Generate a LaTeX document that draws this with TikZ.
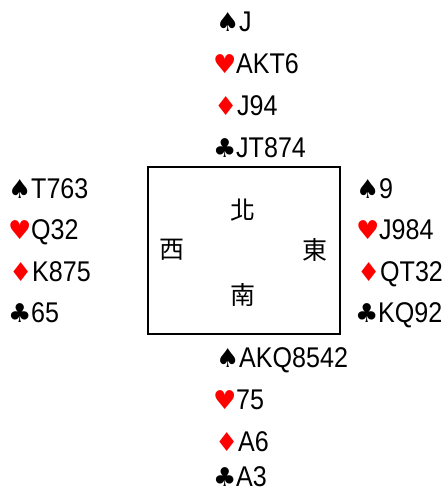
\documentclass[tikz,border=0pt]{standalone}
\usepackage{fontspec}
\setmainfont[FakeStretch=0.88]{Liberation Sans}
\newfontfamily\suitfont{DejaVu Sans}
\newfontfamily\cjk{Noto Sans CJK TC}
\usepackage{tikz}
\newcommand{\cardS}{\makebox[23pt][l]{\suitfont\fontsize{26}{26}\selectfont ♠}}
\newcommand{\cardH}{\makebox[23pt][l]{\suitfont\fontsize{26}{26}\selectfont\color{red}♥}}
\newcommand{\cardD}{\makebox[23pt][l]{\suitfont\fontsize{26}{26}\selectfont\color{red}♦}}
\newcommand{\cardC}{\makebox[23pt][l]{\suitfont\fontsize{26}{26}\selectfont ♣}}
\tikzset{hand/.style={anchor=base west, inner sep=0pt, font=\fontsize{28.5}{28.5}\selectfont},
  seat/.style={inner sep=0pt, font=\cjk\fontsize{25}{25}\selectfont}}

\begin{document}
\begin{tikzpicture}[x=1pt, y=-1pt]
      \useasboundingbox (0,0) rectangle (446,492);
      % north
      \node[hand] (n1) at (216,32) {\cardS J};
      \node[hand] (n2) at (213,74) {\cardH AKT6};
      \node[hand] (n3) at (214,115) {\cardD J94};
      \node[hand] (n4) at (213,157) {\cardC JT874};
      % west
      \node[hand] (w1) at (8,198) {\cardS T763};
      \node[hand] (w2) at (8,239) {\cardH Q32};
      \node[hand] (w3) at (9,281) {\cardD K875};
      \node[hand] (w4) at (8,322) {\cardC 65};
      % east
      \node[hand] (e1) at (356,198) {\cardS 9};
      \node[hand] (e2) at (356,239) {\cardH J984};
      \node[hand] (e3) at (357,281) {\cardD QT32};
      \node[hand] (e4) at (355,322) {\cardC KQ92};
      % south
      \node[hand] (s1) at (216,367) {\cardS AKQ8542};
      \node[hand] (s2) at (213,409) {\cardH 75};
      \node[hand] (s3) at (215,451) {\cardD A6};
      \node[hand] (s4) at (213,486) {\cardC A3};
      % table
      \draw [line width=2pt] (148,167) rectangle (340,334);
      \node[seat] (north) at (243,210) {北};
      \node[seat] (west) at (172,250) {西};
      \node[seat] (east) at (315,250) {東};
      \node[seat] (south) at (243,295) {南};
\end{tikzpicture}
\end{document}
